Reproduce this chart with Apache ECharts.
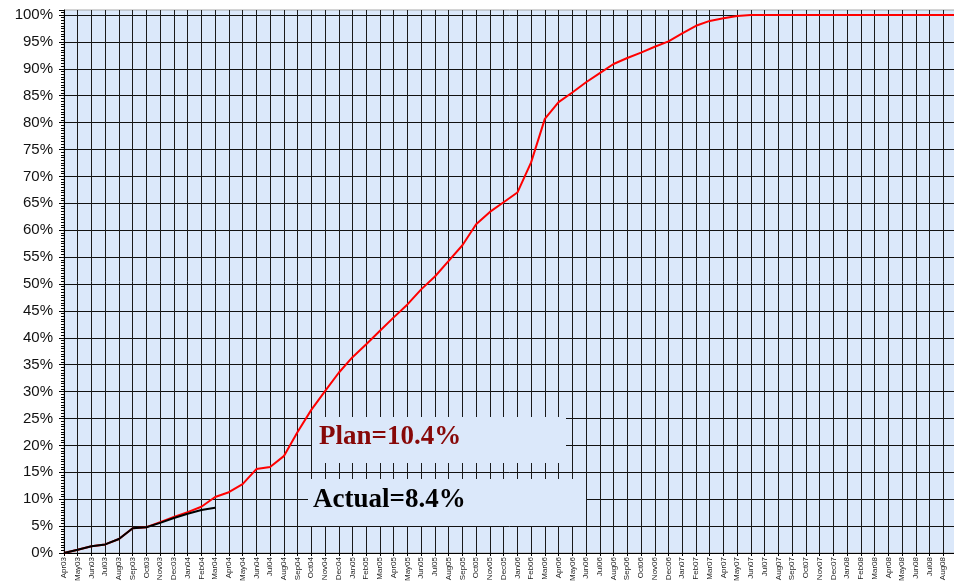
<!DOCTYPE html>
<html>
<head>
<meta charset="utf-8">
<title>Plan vs Actual</title>
<script src="https://cdn.jsdelivr.net/npm/echarts@6/dist/echarts.min.js"></script>
<style>
  html, body { margin: 0; padding: 0; background: #fff; }
  #chart { width: 954px; height: 585px; }
</style>
</head>
<body>
<div id="chart"></div>
<script>
// month labels on the x axis
var months = [
  'Apr03', 'May03', 'Jun03', 'Jul03', 'Aug03', 'Sep03', 'Oct03', 'Nov03', 'Dec03',
  'Jan04', 'Feb04', 'Mar04', 'Apr04', 'May04', 'Jun04', 'Jul04', 'Aug04', 'Sep04', 'Oct04', 'Nov04', 'Dec04',
  'Jan05', 'Feb05', 'Mar05', 'Apr05', 'May05', 'Jun05', 'Jul05', 'Aug05', 'Sep05', 'Oct05', 'Nov05', 'Dec05',
  'Jan06', 'Feb06', 'Mar06', 'Apr06', 'May06', 'Jun06', 'Jul06', 'Aug06', 'Sep06', 'Oct06', 'Nov06', 'Dec06',
  'Jan07', 'Feb07', 'Mar07', 'Apr07', 'May07', 'Jun07', 'Jul07', 'Aug07', 'Sep07', 'Oct07', 'Nov07', 'Dec07',
  'Jan08', 'Feb08', 'Mar08', 'Apr08', 'May08', 'Jun08', 'Jul08', 'Aug08', 'Sep08'
]

// cumulative plan, %
var planPct = [
  0, 0.6, 1.25, 1.6, 2.6, 4.6, 4.8, 5.75, 6.7, 7.6, 8.6, 10.4,
  11.3, 12.8, 15.6, 16.0, 18.0, 22.5, 26.6, 30.1, 33.5, 36.4, 38.8, 41.3,
  43.8, 46.2, 49.0, 51.4, 54.3, 57.2, 61.1, 63.4, 65.2, 67.0, 72.6, 80.7,
  83.8, 85.6, 87.5, 89.2, 90.9, 92.0, 93.0, 94.1, 95.1, 96.6, 98.0, 98.9,
  99.4, 99.8, 100, 100, 100, 100, 100, 100, 100, 100, 100, 100,
  100, 100, 100, 100, 100, 100
]

// cumulative actual, % (up to Mar04)
var actualPct = [0, 0.6, 1.25, 1.6, 2.6, 4.6, 4.8, 5.6, 6.5, 7.3, 8.0, 8.4]

// y ticks
var yTicks = [0, 5, 10, 15, 20, 25, 30, 35, 40, 45, 50, 55, 60, 65, 70, 75, 80, 85, 90, 95, 100]

var planLabel = 'Plan=10.4%'
var actualLabel = 'Actual=8.4%'

var paper = '#dbe8fa'
var serif = '"Liberation Serif", "Times New Roman", serif'
var chart = echarts.init(document.getElementById('chart'), null, { renderer: 'canvas' })

chart.setOption({
  animation: false,
  backgroundColor: '#fff',
  grid: {
    left: 64,
    right: -3,
    top: 10,
    bottom: 32,
    show: true,
    backgroundColor: paper,
    borderColor: '#a8a8a8',
    borderWidth: 1,
    outerBoundsMode: 'none'
  },
  xAxis: {
    type: 'category',
    data: months,
    boundaryGap: false,
    axisLine: { lineStyle: { color: '#000', width: 1 } },
    axisTick: { show: true, interval: 0, length: 3, lineStyle: { color: '#000' } },
    axisLabel: {
      interval: 0,
      rotate: 90,
      margin: 4,
      fontSize: 8,
      fontFamily: 'Liberation Sans, Arial, sans-serif',
      color: '#222'
    },
    splitLine: { show: true, interval: 0, lineStyle: { color: '#1a1a1a', width: 1 } }
  },
  yAxis: {
    type: 'value',
    min: 0,
    max: 100.93, // a little paper above the 100% line
    interval: 5,
    axisLine: { show: true, lineStyle: { color: '#000', width: 1 } },
    axisTick: { show: true, length: 5, lineStyle: { color: '#000' } },
    minorTick: { show: true, splitNumber: 10, length: 3, lineStyle: { color: '#000' } },
    axisLabel: {
      margin: 11,
      fontSize: 15,
      fontFamily: 'Liberation Sans, Arial, sans-serif',
      color: '#111',
      formatter: function(v) {
        return yTicks.indexOf(v) > -1 ? v + '%' : ''
      }
    },
    splitLine: { show: true, showMaxLine: false, lineStyle: { color: '#111', width: 1 } }
  },
  graphic: [
    // plan box
    { type: 'rect', z: 50, shape: { x: 312, y: 417, width: 254, height: 46 }, style: { fill: paper } },
    {
      type: 'text',
      z: 51,
      x: 319,
      y: 437,
      style: {
        text: planLabel,
        fill: '#870808',
        fontSize: 27,
        fontWeight: 'bold',
        fontFamily: serif,
        verticalAlign: 'middle'
      }
    },
    // actual box
    { type: 'rect', z: 50, shape: { x: 308, y: 479, width: 278, height: 47 }, style: { fill: paper } },
    {
      type: 'text',
      z: 51,
      x: 313,
      y: 500,
      style: {
        text: actualLabel,
        fill: '#000',
        fontSize: 27,
        fontWeight: 'bold',
        fontFamily: serif,
        verticalAlign: 'middle'
      }
    }
  ],
  series: [
    {
      name: 'Plan',
      type: 'line',
      data: planPct,
      symbol: 'none',
      lineStyle: { color: '#ff0000', width: 2 },
      z: 3
    },
    {
      name: 'Actual',
      type: 'line',
      data: actualPct,
      symbol: 'none',
      lineStyle: { color: '#000', width: 2 },
      z: 4
    }
  ]
})
</script>
</body>
</html>
